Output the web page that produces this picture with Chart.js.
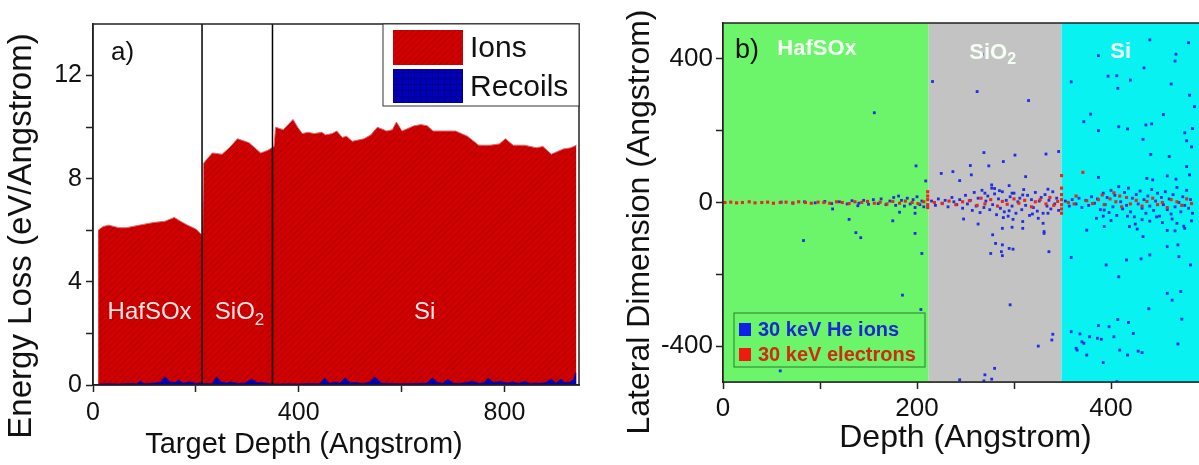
<!DOCTYPE html>
<html>
<head>
<meta charset="utf-8">
<script src="https://cdn.jsdelivr.net/npm/chart.js@4.4.0/dist/chart.umd.min.js"></script>
<style>
  html, body { margin: 0; padding: 0; background: #fff; overflow: hidden; }
  #a { position: absolute; left: 0; top: 0; }
  #bwrap { position: absolute; left: 600px; top: 0; width: 599px; height: 465px; overflow: hidden; }
</style>
</head>
<body>
<canvas id="a" width="600" height="465"></canvas>
<div id="bwrap"><canvas id="b" width="612" height="465"></canvas></div>
<script>
const FONT = '"Liberation Sans", Arial, sans-serif';

// layer boundaries (Angstrom)
const layerEdges = [212, 349];
const layerNames = ['HafSOx', 'SiO', 'Si'];

// tick positions
const ticksAx = [0, 200, 400, 600, 800];
const ticksAy = [0, 2, 4, 6, 8, 10, 12];
const ticksBx = [0, 100, 200, 300, 400, 500];
const ticksBy = [-400, -200, 0, 200, 400];

// panel a: energy loss vs target depth
const ionDepth = [10,20,31,50,65,90,117,140,158,170,184,200,210,213,215,221,232,251,265,281,303,326,340,348,352,355,370,389,398,407,418,430,445,452,465,474,485,493,504,527,540,553,571,582,590,601,624,638,650,661,683,705,728,750,772,790,802,817,839,862,875,891,914,929,940];
const ionLoss = [6.0,6.15,6.2,6.1,6.1,6.2,6.3,6.35,6.5,6.35,6.2,6.05,5.85,5.8,8.6,8.75,9.0,8.95,9.2,9.55,9.4,9.0,9.1,9.2,9.25,10.0,9.9,10.3,10.0,9.75,9.8,9.75,9.8,9.7,9.75,9.85,9.6,9.65,9.45,9.55,9.7,10.0,9.85,9.9,10.2,9.85,10.05,10.1,10.05,9.85,9.85,9.85,9.65,9.3,9.3,9.35,9.55,9.3,9.3,9.2,9.25,8.95,9.15,9.2,9.3];

const recoilDepth = [10,30,50,70,85,92,100,115,130,140,150,160,166,175,189,200,208,214,222,232,240,250,260,267,280,295,309,320,331,345,360,380,400,420,440,451,460,471,480,490,500,512,525,538,548,560,580,600,620,640,650,660,670,680,690,700,710,725,739,750,760,768,780,791,805,816,828,839,850,860,870,880,891,900,910,918,927,934,938,940];
const recoilLoss = [0.04,0.05,0.04,0.06,0.05,0.15,0.05,0.08,0.1,0.32,0.12,0.1,0.19,0.08,0.13,0.06,0.09,0.05,0.07,0.05,0.32,0.12,0.08,0.13,0.07,0.08,0.23,0.09,0.1,0.05,0.04,0.05,0.04,0.06,0.05,0.26,0.07,0.12,0.08,0.28,0.09,0.1,0.06,0.12,0.32,0.08,0.06,0.05,0.06,0.07,0.08,0.28,0.1,0.07,0.23,0.08,0.06,0.1,0.15,0.07,0.09,0.26,0.1,0.15,0.08,0.12,0.07,0.15,0.06,0.08,0.07,0.1,0.23,0.08,0.23,0.09,0.12,0.2,0.45,0.45];

// panel b: lateral dimension vs depth, [depth, lateral]
const heIons = [
  [156,250],[199,102],[209,60],[113,-18],[139,-9],[182,-27],[198,-30],[130,-47],[175,-51],[137,-84],[198,-86],[142,-98],[83,-106],[205,-142],[185,-258],[204,-298],[59,-469],
  [60,1],[72,-2],[84,2],[95,-1],[105,3],[112,-3],[120,2],[128,-4],[133,5],[140,-2],[145,6],[150,-5],[155,8],[160,-3],[163,10],[168,-6],[172,4],[176,14],[178,-8],[181,18],[184,6],[187,-10],[190,12],[193,-4],[196,8],[198,-14],[200,16],[203,-6],[205,4],[207,-12],
  [216,337],[262,309],[315,284],[267,413],[346,142],[333,135],[301,132],[269,139],[289,114],[255,103],[274,102],[237,86],[225,81],[256,77],[312,72],[244,61],[277,49],[280,39],[285,33],[295,47],[335,37],[270,26],[298,26],[309,21],
  [248,-46],[263,-60],[295,-23],[289,-42],[299,-47],[309,-53],[319,-32],[325,-44],[330,-58],[335,-30],[288,-72],[298,-69],[309,-72],[331,-81],[331,-86],[278,-90],[281,-114],[288,-118],[276,-142],[287,-137],[288,-148],[295,-128],[299,-130],[336,-137],[296,-285],[340,-367],[339,-383],[325,-400],[280,-462],[270,-480],[277,-492],[269,-497],[244,-494],
  [215,4],[219,-8],[222,10],[226,-2],[229,6],[232,-12],[236,14],[238,2],[241,-6],[244,8],[247,-16],[250,20],[252,-4],[255,6],[257,-22],[259,28],[261,-10],[263,12],[265,-28],[267,34],[269,-14],[271,4],[273,18],[275,-20],[277,40],[278,-6],[280,24],[282,-34],[284,10],[286,-16],[288,30],[290,-26],[292,6],[294,-38],[296,16],[298,-10],[300,26],[302,-30],[304,2],[306,12],[308,-20],[310,36],[312,-8],[314,20],[316,-36],[318,8],[320,-14],[322,28],[324,-24],[326,4],[328,14],[330,-30],[332,22],[334,-10],[336,6],[338,-18],[340,30],[342,-4],[344,12],[346,-22],
  [440,453],[480,445],[387,409],[467,413],[466,394],[434,375],[397,352],[406,353],[420,341],[359,336],[462,330],[407,318],[481,299],[486,267],[454,245],[379,246],[372,225],[408,211],[417,205],[436,216],[442,219],[387,200],[476,194],[484,206],[433,176],[478,172],[483,155],[441,134],[460,128],[478,100],[458,74],[387,70],[437,67],[443,63],[467,65],[481,77],
  [385,-44],[400,-50],[417,-38],[425,-60],[432,-48],[440,-52],[447,-40],[453,-56],[463,-46],[468,-58],[475,-66],[483,-51],[375,-77],[393,-67],[419,-67],[427,-74],[458,-78],[466,-79],[476,-72],[433,-95],[393,-21],[392,-38],
  [458,-123],[469,-118],[440,-146],[470,-151],[431,-157],[416,-160],[359,-153],[395,-174],[482,-174],[408,-207],[458,-253],[472,-248],[463,-272],[439,-296],[473,-325],[407,-326],[418,-334],[387,-343],[398,-346],[359,-360],[368,-366],[378,-374],[403,-374],[423,-365],[386,-378],[390,-381],[370,-388],[372,-392],[469,-394],[364,-406],[365,-411],[409,-411],[428,-414],[432,-418],[375,-425],[417,-425],[392,-446],[406,-499],
  [353,4],[357,-10],[360,8],[364,-4],[367,12],[370,-14],[374,6],[377,-8],[380,16],[383,-2],[386,10],[389,-20],[392,26],[394,-6],[396,14],[398,-28],[400,34],[402,-12],[404,20],[406,-36],[408,44],[410,2],[412,-18],[414,28],[416,-8],[418,40],[420,-26],[422,12],[424,-40],[426,22],[428,-4],[430,32],[432,-16],[434,8],[436,-30],[438,18],[440,-10],[442,36],[444,-22],[446,4],[448,26],[450,-38],[452,14],[454,-6],[456,30],[458,-20],[460,10],[462,-32],[464,22],[466,-12],[468,42],[470,0],[472,-26],[474,16],[476,-8],[478,34],[480,-16],[482,8],[484,-30]
];
const electrons = [
  [2,0],[8,1],[14,-1],[20,0],[27,2],[33,-1],[40,0],[46,1],[52,-2],[59,0],[65,1],[72,-1],[78,2],[85,0],[91,-2],[98,1],[104,0],[110,-2],[117,2],[123,0],[130,-3],[136,2],[143,0],[149,3],[156,-2],[162,1],[169,-4],[175,3],[182,-2],[188,4],[195,0],[201,-3],[207,2],
  [211,30],[211,18],[211,8],[211,-6],[211,-14],
  [218,0],[226,-3],[233,4],[240,-6],[247,2],[254,5],[262,-8],[266,12],[270,-4],[276,8],[283,-10],[288,3],[293,-5],[300,10],[305,-2],[311,6],[318,-12],[322,2],[327,8],[333,-4],[337,14],[341,-8],[345,3],
  [349,75],[349,40],[349,22],[349,8],[349,-6],[349,-18],[349,-30],
  [356,0],[362,-4],[364,18],[371,84],[375,5],[381,-3],[387,8],[391,21],[393,-6],[399,10],[403,27],[405,2],[409,18],[411,-12],[416,14],[420,-4],[426,6],[432,-10],[437,3],[443,12],[448,-6],[453,0],[458,-14],[462,8],[468,2],[473,-8],[478,10],[483,-3]
];

function pattern(base, line, kind) {
  const c = document.createElement('canvas');
  c.width = c.height = 6;
  const g = c.getContext('2d');
  g.fillStyle = base; g.fillRect(0, 0, 6, 6);
  g.strokeStyle = line; g.lineWidth = 1;
  g.beginPath();
  if (kind === 'diag') {
    g.moveTo(0, 6); g.lineTo(6, 0);
    g.moveTo(-1, 1); g.lineTo(1, -1);
    g.moveTo(5, 7); g.lineTo(7, 5);
  } else {
    g.moveTo(0, 0.5); g.lineTo(6, 0.5);
    g.moveTo(0.5, 0); g.lineTo(0.5, 6);
  }
  g.stroke();
  return g.createPattern(c, 'repeat');
}
const redFill = pattern('#d00000', '#aa0000', 'diag');
const blueFill = pattern('#0000b8', '#00008a', 'grid');

function chem(ctx, base, sub, cx, cy, size, weight) {
  ctx.font = weight + ' ' + size + 'px ' + FONT;
  const w1 = ctx.measureText(base).width;
  const subSize = Math.round(size * 0.72);
  ctx.font = weight + ' ' + subSize + 'px ' + FONT;
  const w2 = sub ? ctx.measureText(sub).width : 0;
  const x0 = cx - (w1 + w2) / 2;
  ctx.textAlign = 'left'; ctx.textBaseline = 'middle';
  ctx.font = weight + ' ' + size + 'px ' + FONT;
  ctx.fillText(base, x0, cy);
  if (sub) {
    ctx.font = weight + ' ' + subSize + 'px ' + FONT;
    ctx.fillText(sub, x0 + w1, cy + size * 0.32);
  }
}

function axisTitle(ctx, text, x, y, size, rot) {
  ctx.save();
  ctx.translate(x, y);
  if (rot) ctx.rotate(-Math.PI / 2);
  ctx.font = size + 'px ' + FONT;
  ctx.fillStyle = '#111';
  ctx.textAlign = 'center'; ctx.textBaseline = 'middle';
  ctx.fillText(text, 0, 0);
  ctx.restore();
}

const setTicks = list => s => { s.ticks = list.map(v => ({ value: v })); };
const tickFont = { family: FONT, size: 25 };

// ---------- panel a ----------
const panelA = {
  id: 'panelA',
  afterDatasetsDraw(chart) {
    const { ctx, chartArea: ca, scales: { x, y } } = chart;
    ctx.save();
    ctx.strokeStyle = '#000'; ctx.lineWidth = 1.5;
    layerEdges.forEach(d => {
      const px = x.getPixelForValue(d);
      ctx.beginPath(); ctx.moveTo(px, ca.top); ctx.lineTo(px, ca.bottom); ctx.stroke();
    });
    ctx.strokeStyle = '#222';
    ctx.strokeRect(ca.left, ca.top, ca.right - ca.left, ca.bottom - ca.top);

    ctx.fillStyle = '#fbe6e6';
    const ly = y.getPixelForValue(2.8);
    chem(ctx, layerNames[0], '', x.getPixelForValue(110), ly, 24, 'normal');
    chem(ctx, layerNames[1], '2', x.getPixelForValue(285), ly, 24, 'normal');
    chem(ctx, layerNames[2], '', x.getPixelForValue(645), ly, 24, 'normal');

    ctx.fillStyle = '#111';
    ctx.font = '26px ' + FONT; ctx.textAlign = 'left'; ctx.textBaseline = 'middle';
    ctx.fillText('a)', ca.left + 18, ca.top + 29);

    // legend
    const bw = 196, bh = 82, bx = ca.right - bw, by = ca.top;
    ctx.fillStyle = '#fff'; ctx.fillRect(bx, by, bw, bh);
    ctx.lineWidth = 1; ctx.strokeStyle = '#333'; ctx.strokeRect(bx, by, bw, bh);
    ctx.fillStyle = redFill; ctx.fillRect(bx + 10, by + 6, 70, 35);
    ctx.fillStyle = blueFill; ctx.fillRect(bx + 10, by + 45, 70, 34);
    ctx.fillStyle = '#111'; ctx.font = '30px ' + FONT;
    ctx.fillText('Ions', bx + 87, by + 25);
    ctx.fillText('Recoils', bx + 87, by + 64);

    axisTitle(ctx, 'Energy Loss (eV/Angstrom)', 22, 236, 33, true);
    axisTitle(ctx, 'Target Depth (Angstrom)', 304, 445, 29, false);
    ctx.restore();
  }
};

new Chart(document.getElementById('a'), {
  type: 'line',
  data: {
    datasets: [
      {
        label: 'Recoils',
        data: recoilDepth.map((d, i) => ({ x: d, y: recoilLoss[i] })),
        backgroundColor: blueFill, borderColor: '#0000a0', borderWidth: 0.5,
        fill: 'origin', pointRadius: 0, tension: 0, order: 0
      },
      {
        label: 'Ions',
        data: ionDepth.map((d, i) => ({ x: d, y: ionLoss[i] })),
        backgroundColor: redFill, borderColor: '#e46a6a', borderWidth: 1,
        fill: 'origin', pointRadius: 0, tension: 0, order: 1
      }
    ]
  },
  options: {
    responsive: false, animation: false,
    layout: { padding: { top: 24, right: 21, left: 0, bottom: 0 } },
    plugins: { legend: { display: false }, tooltip: { enabled: false } },
    scales: {
      x: {
        type: 'linear', min: 0, max: 945,
        afterFit: s => { s.height = 80; },
        afterBuildTicks: setTicks(ticksAx),
        ticks: { autoSkip: false, maxRotation: 0, color: '#111', font: tickFont, padding: 6,
                 callback: v => (v % 400 === 0 ? String(v) : '') },
        grid: { drawOnChartArea: false, tickLength: 7, tickColor: '#222', tickWidth: 1.5 },
        border: { color: '#222', width: 1.5 }
      },
      y: {
        min: 0, max: 14,
        afterFit: s => { s.width = 93; },
        afterBuildTicks: setTicks(ticksAy),
        ticks: { autoSkip: false, color: '#111', font: tickFont, padding: 4,
                 callback: v => (v % 4 === 0 ? String(v) : '') },
        grid: { drawOnChartArea: false, tickLength: 7, tickColor: '#222', tickWidth: 1.5 },
        border: { color: '#222', width: 1.5 }
      }
    }
  },
  plugins: [panelA]
});

// ---------- panel b ----------
const bandColors = ['#6cf56a', '#c3c3c3', '#08f2f2'];
const panelB = {
  id: 'panelB',
  beforeDatasetsDraw(chart) {
    const { ctx, chartArea: ca, scales: { x } } = chart;
    const edges = [x.min, ...layerEdges, x.max];
    ctx.save();
    bandColors.forEach((c, i) => {
      const x0 = x.getPixelForValue(edges[i]), x1 = x.getPixelForValue(edges[i + 1]);
      ctx.fillStyle = c;
      ctx.fillRect(x0, ca.top, x1 - x0, ca.bottom - ca.top);
    });
    ctx.restore();
  },
  afterDatasetsDraw(chart) {
    const { ctx, chartArea: ca, scales: { x, y } } = chart;
    ctx.save();
    ctx.strokeStyle = '#222'; ctx.lineWidth = 1.5;
    ctx.strokeRect(ca.left, ca.top, ca.right - ca.left, ca.bottom - ca.top);

    ctx.fillStyle = '#f4fff4';
    chem(ctx, layerNames[0], '', x.getPixelForValue(97), y.getPixelForValue(428), 22, 'bold');
    chem(ctx, layerNames[1], '2', x.getPixelForValue(278), y.getPixelForValue(418), 22, 'bold');
    chem(ctx, layerNames[2], '', x.getPixelForValue(410), y.getPixelForValue(419), 22, 'bold');

    ctx.fillStyle = '#111';
    ctx.font = '27px ' + FONT; ctx.textAlign = 'left'; ctx.textBaseline = 'middle';
    ctx.fillText('b)', ca.left + 12, ca.top + 28);

    // legend
    const bx = ca.left + 11, by = ca.bottom - 69, bw = 191, bh = 54;
    ctx.lineWidth = 1; ctx.strokeStyle = '#2f7a2f'; ctx.strokeRect(bx, by, bw, bh);
    ctx.font = 'bold 20px ' + FONT;
    ctx.fillStyle = '#1020e8'; ctx.fillRect(bx + 5, by + 10, 12, 13);
    ctx.fillStyle = '#1a2ad0'; ctx.fillText('30 keV He ions', bx + 24, by + 17);
    ctx.fillStyle = '#f01a10'; ctx.fillRect(bx + 5, by + 35, 12, 13);
    ctx.fillStyle = '#d02a10'; ctx.fillText('30 keV electrons', bx + 24, by + 42);

    axisTitle(ctx, 'Lateral Dimension (Angstrom)', 40, 222, 32, true);
    axisTitle(ctx, 'Depth (Angstrom)', (ca.left + ca.right) / 2, 438, 32, false);
    ctx.restore();
  }
};

new Chart(document.getElementById('b'), {
  type: 'scatter',
  data: {
    datasets: [
      {
        label: '30 keV electrons',
        data: electrons.map(p => ({ x: p[0], y: p[1] })),
        backgroundColor: '#e8281e', borderWidth: 0, pointStyle: 'rect', pointRadius: 2.2, order: 0
      },
      {
        label: '30 keV He ions',
        data: heIons.map(p => ({ x: p[0], y: p[1] })),
        backgroundColor: '#2030e0', borderWidth: 0, pointStyle: 'rect', pointRadius: 2, order: 1
      }
    ]
  },
  options: {
    responsive: false, animation: false,
    layout: { padding: { top: 23, right: 0, left: 0, bottom: 0 } },
    plugins: { legend: { display: false }, tooltip: { enabled: false } },
    scales: {
      x: {
        type: 'linear', min: 0, max: 500,
        afterFit: s => { s.height = 83; },
        afterBuildTicks: setTicks(ticksBx),
        ticks: { autoSkip: false, maxRotation: 0, color: '#111', font: { family: FONT, size: 26 }, padding: 4,
                 callback: v => (v % 200 === 0 ? String(v) : '') },
        grid: { drawOnChartArea: false, tickLength: 7, tickColor: '#222', tickWidth: 1.5 },
        border: { color: '#222', width: 1.5 }
      },
      y: {
        min: -500, max: 500,
        afterFit: s => { s.width = 123; },
        afterBuildTicks: setTicks(ticksBy),
        ticks: { autoSkip: false, color: '#111', font: { family: FONT, size: 26 }, padding: 3,
                 callback: v => (v % 400 === 0 ? String(v) : '') },
        grid: { drawOnChartArea: false, tickLength: 7, tickColor: '#222', tickWidth: 1.5 },
        border: { color: '#222', width: 1.5 }
      }
    }
  },
  plugins: [panelB]
});
</script>
</body>
</html>
